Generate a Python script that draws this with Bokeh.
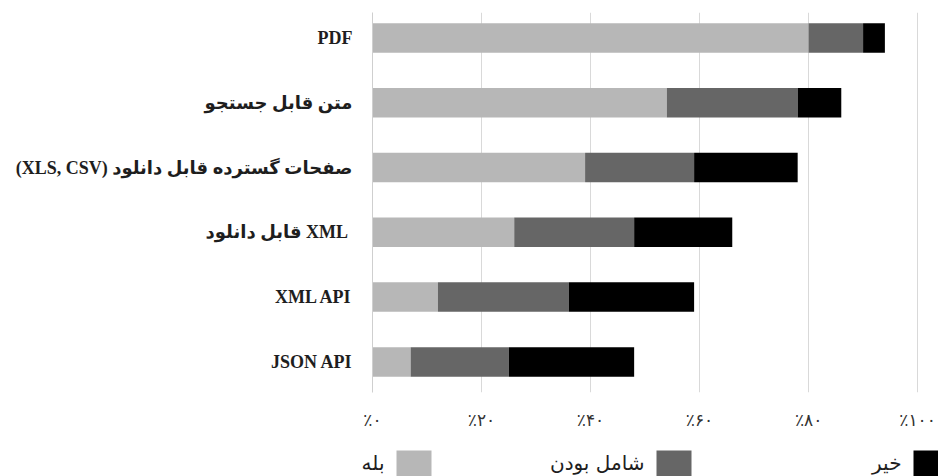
import numpy as np
from bokeh.plotting import figure
from bokeh.models import Range1d, FixedTicker, ColumnDataSource
from bokeh.core.properties import value
from bokeh.embed import file_html
from bokeh.resources import INLINE

# ---- data (top to bottom) ----
categories = ["PDF", "متن قابل جستجو", "(XLS, CSV) صفحات گسترده قابل دانلود",
              "قابل دانلود XML ", "XML API", "JSON API"]
yes_vals = [80, 54, 39, 26, 12, 7]
partial_vals = [10, 24, 20, 22, 24, 18]
no_vals = [4, 8, 19, 18, 23, 23]
series_names = ["بله", "شامل بودن", "خیر"]
series_colors = ["#b7b7b7", "#666666", "#000000"]
x_ticks = [0, 20, 40, 60, 80, 100]
x_tick_labels = ["٪۰", "٪۲۰", "٪۴۰", "٪۶۰", "٪۸۰", "٪۱۰۰"]

LABEL_FONT = "Liberation Serif, DejaVu Sans"

n = len(categories)
ypos = (np.arange(n)[::-1] + 0.5).tolist()
vals = np.array([yes_vals, partial_vals, no_vals], dtype=float)
rights = np.cumsum(vals, axis=0)
lefts = rights - vals

p = figure(width=938, height=436, output_backend="svg", toolbar_location=None,
           x_range=Range1d(0, 100.9), y_range=Range1d(0.028, 5.892),
           min_border_left=372, min_border_right=16, min_border_top=12,
           min_border_bottom=44)
p.outline_line_color = None
p.background_fill_color = "white"
p.border_fill_color = "white"

for i in range(3):
    src = ColumnDataSource(dict(y=ypos, left=lefts[i], right=rights[i]))
    p.hbar(y="y", left="left", right="right", height=0.455, source=src,
           fill_color=series_colors[i], line_color=None)

# x axis
p.xaxis.ticker = FixedTicker(ticks=x_ticks)
p.xaxis.major_label_overrides = {t: l for t, l in zip(x_ticks, x_tick_labels)}
p.xaxis.axis_line_color = None
p.xaxis.major_tick_line_color = None
p.xaxis.minor_tick_line_color = None
p.xaxis.major_label_standoff = 11
p.xaxis.major_label_text_font = "DejaVu Sans"
p.xaxis.major_label_text_font_size = "17px"
p.xaxis.major_label_text_color = "#333333"

# y axis
p.yaxis.ticker = FixedTicker(ticks=ypos)
p.yaxis.major_label_overrides = {y: c for y, c in zip(ypos, categories)}
p.yaxis.axis_line_color = "#cfcfcf"
p.yaxis.major_tick_line_color = None
p.yaxis.minor_tick_line_color = None
p.yaxis.major_label_standoff = 14
p.yaxis.major_label_text_font = LABEL_FONT
p.yaxis.major_label_text_font_size = "18px"
p.yaxis.major_label_text_font_style = "bold"
p.yaxis.major_label_text_color = "#1e1e1e"

p.xgrid.grid_line_color = "#d9d9d9"
p.ygrid.grid_line_color = None

# ---- legend strip (right-to-left: label left of swatch) ----
lg = figure(width=938, height=40, output_backend="svg", toolbar_location=None,
            x_range=Range1d(0, 938), y_range=Range1d(0, 40),
            min_border=0)
lg.outline_line_color = None
lg.axis.visible = False
lg.grid.grid_line_color = None
sw_left = [396, 656, 913]
sw_w = 35
lg.quad(left=sw_left, right=[s + sw_w for s in sw_left], bottom=[-10] * 3, top=[26] * 3,
        fill_color=series_colors, line_color=None)
lg.text(x=[s - 12 for s in sw_left], y=[14] * 3, text=series_names,
        text_align="right", text_baseline="middle",
        text_font=value("DejaVu Sans"), text_font_size="20px", text_color="#1e1e1e")

open("out.html", "w").write(file_html([p, lg], INLINE))
